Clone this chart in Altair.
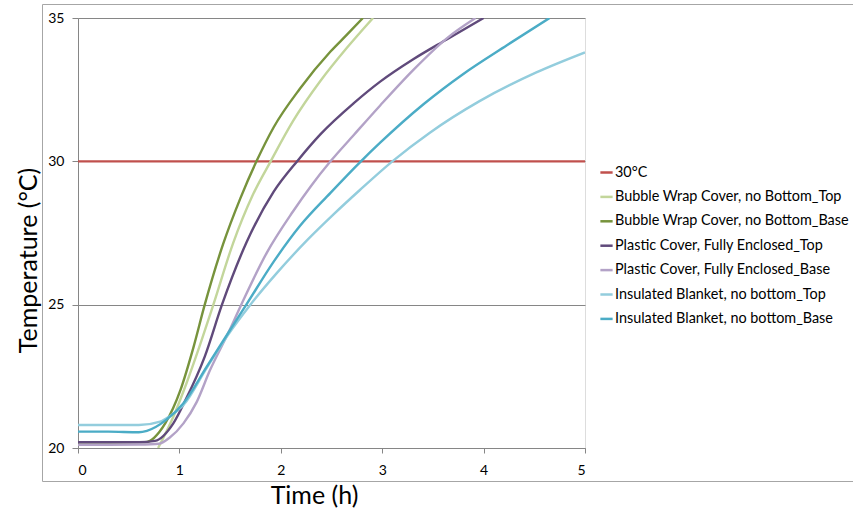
import altair as alt
import pandas as pd

SERIES = [
    "30°C",
    "Bubble Wrap Cover, no Bottom_Top",
    "Bubble Wrap Cover, no Bottom_Base",
    "Plastic Cover, Fully Enclosed_Top",
    "Plastic Cover, Fully Enclosed_Base",
    "Insulated Blanket, no bottom_Top",
    "Insulated Blanket, no bottom_Base",
]
COLORS = ["#C0504D", "#C3D69B", "#77933C", "#604A7B", "#B3A2C7", "#93CDDD", "#4BACC6"]

t_ref = [0, 5]
T_ref = [30, 30]

t_bw_top = [0.79, 0.94, 1.07, 1.22, 1.335, 1.53, 1.72, 1.90, 2.12, 2.39, 2.65, 2.91]
T_bw_top = [20.0, 21.09, 22.26, 23.77, 25.0, 27.15, 28.8, 30.0, 31.4, 32.8, 33.95, 35.0]

t_bw_base = [0, 0.3, 0.6, 0.66, 0.71, 0.8, 0.86, 1.01, 1.14, 1.25, 1.43, 1.60, 1.76, 1.93, 2.19, 2.49, 2.65, 2.81]
T_bw_base = [20.2, 20.2, 20.2, 20.2, 20.25, 20.55, 20.86, 22.02, 23.53, 25.0, 27.1, 28.7, 30.0, 31.19, 32.54, 33.83, 34.41, 35.0]

t_pl_top = [0, 0.3, 0.6, 0.76, 0.94, 1.06, 1.25, 1.42, 1.66, 1.93, 2.17, 2.39, 2.72, 2.98, 3.31, 3.64, 4.0]
T_pl_top = [20.2, 20.2, 20.2, 20.25, 20.86, 21.67, 23.19, 25.0, 27.16, 28.94, 30.04, 30.94, 32.03, 32.78, 33.57, 34.26, 35.0]

t_pl_base = [0, 0.3, 0.6, 0.8, 0.9, 1.04, 1.17, 1.30, 1.48, 1.61, 1.86, 2.12, 2.30, 2.49, 2.72, 2.98, 3.31, 3.64, 3.92]
T_pl_base = [20.11, 20.11, 20.12, 20.15, 20.35, 20.86, 21.6, 22.7, 24.0, 25.0, 26.8, 28.25, 29.15, 30.0, 30.92, 31.95, 33.2, 34.3, 35.0]

t_ib_top = [0, 0.3, 0.6, 0.81, 0.9, 1.04, 1.27, 1.47, 1.70, 1.96, 2.26, 2.52, 2.78, 3.10, 3.47, 3.96, 4.52, 5.0]
T_ib_top = [20.8, 20.8, 20.8, 20.92, 21.1, 21.5, 22.8, 23.9, 25.0, 26.1, 27.25, 28.15, 29.0, 30.0, 31.0, 32.1, 33.1, 33.8]

t_ib_base = [0, 0.3, 0.6, 0.68, 0.87, 1.04, 1.27, 1.47, 1.66, 1.93, 2.19, 2.49, 2.79, 2.98, 3.41, 3.80, 4.23, 4.65]
T_ib_base = [20.57, 20.57, 20.55, 20.6, 20.98, 21.56, 22.84, 23.95, 25.0, 26.5, 27.75, 28.9, 30.0, 30.65, 32.0, 33.05, 34.05, 35.0]

TIMES = [t_ref, t_bw_top, t_bw_base, t_pl_top, t_pl_base, t_ib_top, t_ib_base]
TEMPS = [T_ref, T_bw_top, T_bw_base, T_pl_top, T_pl_base, T_ib_top, T_ib_base]

rows = []
for name, ts, Ts in zip(SERIES, TIMES, TEMPS):
    for a, b in zip(ts, Ts):
        rows.append({"series": name, "t": a, "T": b})
df = pd.DataFrame(rows)

GRAY = "#868686"
FONT = "Lato"

frame = alt.Chart(pd.DataFrame({"d": [0]})).mark_rect(
    fillOpacity=0, stroke="#A6A6A6", strokeWidth=1, clip=False
).encode(
    x=alt.value(-35.5), x2=alt.value(790), y=alt.value(-13.5), y2=alt.value(463.5)
)

lines = alt.Chart(df).mark_line(strokeWidth=2.4, clip=True, interpolate="monotone").encode(
    x=alt.X(
        "t:Q",
        scale=alt.Scale(domain=[0, 5], nice=False, zero=False),
        axis=alt.Axis(
            values=[0, 1, 2, 3, 4, 5], format="d", title="Time (h)", grid=False,
            domainColor=GRAY, tickColor=GRAY, tickSize=5, labelPadding=10,
            labelFont=FONT, labelFontSize=14, labelColor="black",
            titleFont=FONT, titleFontSize=25, titleFontWeight="normal", titleColor="black",
            titleX=236, titleY=55, titleBaseline="alphabetic", titleAlign="center",
        ),
    ),
    y=alt.Y(
        "T:Q",
        scale=alt.Scale(domain=[20, 35], nice=False, zero=False),
        axis=alt.Axis(
            values=[20, 25, 30, 35], format="d", title="Temperature (°C)", grid=True,
            gridColor=GRAY, gridWidth=1, domainColor=GRAY, tickColor=GRAY, tickSize=6,
            labelPadding=8, labelFont=FONT, labelFontSize=14, labelColor="black",
            titleFont=FONT, titleFontSize=25, titleFontWeight="normal", titleColor="black",
            titleX=-42, titleY=242, titleAngle=270, titleBaseline="alphabetic", titleAlign="center",
        ),
    ),
    color=alt.Color(
        "series:N",
        scale=alt.Scale(domain=SERIES, range=COLORS),
        sort=SERIES,
        legend=alt.Legend(
            orient="none", legendX=521, legendY=147, title=None,
            labelFont=FONT, labelFontSize=14.4, labelColor="black", labelLimit=400,
            symbolType="stroke", symbolSize=150, symbolStrokeWidth=2.5,
            rowPadding=9.4, labelOffset=1, padding=0,
        ),
    ),
)

chart = alt.layer(frame, lines).properties(
    width=507,
    height=430,
    autosize=alt.AutoSizeParams(type="none"),
    padding={"left": 78, "top": 18, "right": 268, "bottom": 61},
).configure_view(strokeWidth=0).configure(background="white")

chart.save("out.html", embed_options={"renderer": "svg", "actions": False})
